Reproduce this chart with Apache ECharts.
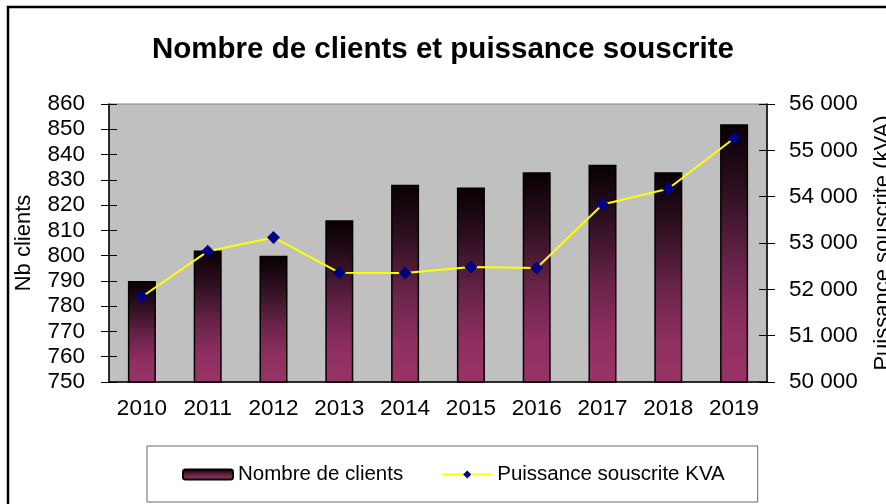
<!DOCTYPE html>
<html>
<head>
<meta charset="utf-8">
<script src="https://cdn.jsdelivr.net/npm/echarts@6/dist/echarts.min.js"></script>
<style>
  html, body { margin: 0; padding: 0; background: #fff; }
  #chart { width: 886px; height: 504px; }
</style>
</head>
<body>
<div id="chart"></div>
<script>
// donnees
var years = ["2010", "2011", "2012", "2013", "2014", "2015", "2016", "2017", "2018", "2019"];
var nbClients = [790, 802, 800, 814, 828, 827, 833, 836, 833, 852];
var puissance = [51840, 52820, 53120, 52360, 52350, 52480, 52460, 53830, 54170, 55260];

var font = "Liberation Sans";

function spaced(v) {
  return String(v).replace(/\B(?=(\d{3})+(?!\d))/g, " ");
}

var myChart = echarts.init(document.getElementById("chart"));
var option = {
  animation: false,
  textStyle: { fontFamily: font },
  title: {
    text: "Nombre de clients et puissance souscrite",
    left: "center",
    top: 30,
    textStyle: { fontSize: 29.5, fontWeight: "bold", color: "#000", fontFamily: font }
  },
  legend: {
    left: 147,
    top: 446,
    padding: [18, 33, 17, 35],
    borderColor: "#666",
    borderWidth: 1,
    itemWidth: 50,
    itemHeight: 10,
    itemGap: 38,
    textStyle: { fontSize: 20.5, color: "#000", fontFamily: font },
    data: ["Nombre de clients", "Puissance souscrite KVA"]
  },
  grid: {
    left: 109,
    right: 119,
    top: 104,
    bottom: 122,
    outerBoundsMode: "none",
    containLabel: false,
    show: true,
    backgroundColor: "#c0c0c0",
    borderColor: "#808080",
    borderWidth: 1
  },
  xAxis: [
    {
      type: "category",
      data: years,
      axisLine: { lineStyle: { color: "#000", width: 1.5 } },
      axisTick: { length: 8, lineStyle: { color: "#000" } },
      axisLabel: { fontSize: 22.5, color: "#000", margin: 15, interval: 0, hideOverlap: false }
    },
    {
      // ticks vers l'interieur (graduations croisees)
      type: "category",
      data: years,
      position: "bottom",
      axisLine: { show: false },
      axisTick: { inside: true, length: 8, lineStyle: { color: "#000" } },
      axisLabel: { show: false }
    }
  ],
  yAxis: [
    {
      type: "value",
      min: 750,
      max: 860,
      interval: 10,
      name: "Nb clients",
      nameLocation: "middle",
      nameRotate: 90,
      nameGap: 74,
      nameMoveOverlap: false,
      nameTextStyle: { fontSize: 22, color: "#000" },
      splitLine: { show: false },
      axisLine: { show: true, lineStyle: { color: "#000", width: 1.5 } },
      axisTick: { show: true, length: 8, lineStyle: { color: "#000" } },
      axisLabel: { fontSize: 22.5, color: "#000", margin: 24 }
    },
    {
      type: "value",
      min: 50000,
      max: 56000,
      interval: 1000,
      position: "right",
      name: "Puissance souscrite (kVA)",
      nameLocation: "middle",
      nameRotate: 90,
      nameGap: 105,
      nameMoveOverlap: false,
      nameTextStyle: { fontSize: 22, color: "#000" },
      splitLine: { show: false },
      axisLine: { show: true, lineStyle: { color: "#000", width: 1.5 } },
      axisTick: { show: true, length: 8, lineStyle: { color: "#000" } },
      axisLabel: { fontSize: 22.5, color: "#000", margin: 22, formatter: spaced }
    },
    {
      type: "value",
      min: 750,
      max: 860,
      interval: 10,
      position: "left",
      splitLine: { show: false },
      axisLine: { show: false },
      axisTick: { show: true, inside: true, length: 8, lineStyle: { color: "#000" } },
      axisLabel: { show: false }
    },
    {
      type: "value",
      min: 50000,
      max: 56000,
      interval: 1000,
      position: "right",
      splitLine: { show: false },
      axisLine: { show: false },
      axisTick: { show: true, inside: true, length: 8, lineStyle: { color: "#000" } },
      axisLabel: { show: false }
    }
  ],
  series: [
    {
      name: "Nombre de clients",
      type: "bar",
      data: nbClients,
      barWidth: 28,
      itemStyle: {
        borderColor: "#000",
        borderWidth: 1.5,
        color: {
          type: "linear",
          x: 0, y: 0, x2: 0, y2: 1,
          colorStops: [
            { offset: 0, color: "#080004" },
            { offset: 0.25, color: "#2d0f1f" },
            { offset: 0.55, color: "#6a2449" },
            { offset: 0.8, color: "#902f61" },
            { offset: 1, color: "#993366" }
          ]
        }
      }
    },
    {
      name: "Puissance souscrite KVA",
      type: "line",
      yAxisIndex: 1,
      data: puissance,
      symbol: "diamond",
      symbolSize: 13,
      lineStyle: { color: "#ffff00", width: 2 },
      itemStyle: { color: "#000080" },
      z: 5
    }
  ],
  graphic: [
    {
      type: "polyline",
      shape: { points: [[8, 504], [8, 7], [886, 7]] },
      style: { stroke: "#000", lineWidth: 2.5, fill: null }
    }
  ]
};

myChart.setOption(option);
</script>
</body>
</html>
